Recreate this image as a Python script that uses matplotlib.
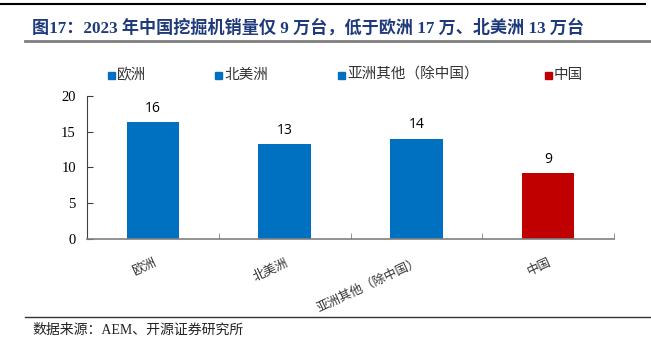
import matplotlib
matplotlib.use("Agg")
import matplotlib.pyplot as plt
from matplotlib.patches import Rectangle
import numpy as np

categories = ["欧洲", "北美洲", "亚洲其他（除中国）", "中国"]
values = [16.3, 13.2, 14.0, 9.2]
colors = ["#0070C0", "#0070C0", "#0070C0", "#C00000"]
yticks = [0, 5, 10, 15, 20]
title = "图17：2023 年中国挖掘机销量仅 9 万台，低于欧洲 17 万、北美洲 13 万台"
source = "数据来源：AEM、开源证券研究所"

CJK = ["Noto Sans CJK SC", "DejaVu Sans"]
SERIF_CJK = ["Liberation Serif", "Noto Sans CJK SC"]
plt.rcParams["font.family"] = CJK

fig = plt.figure(figsize=(6.51, 3.51), dpi=100)
ax = fig.add_axes([87/651, 1-239/351, (614-87)/651, (239-95.7)/351])

x = np.arange(len(categories))
for i, (c, v, col) in enumerate(zip(categories, values, colors)):
    ax.bar(x[i], v, width=0.4, color=col, label=c, zorder=2)
    ax.text(x[i], v + 0.9, f"{v:.0f}", ha="center", va="bottom",
            fontsize=10, family=["Open Sans", "DejaVu Sans"], color="#000000")

ax.set_xlim(-0.5, len(categories) - 0.5)
ax.set_ylim(0, 20)
ax.set_yticks(yticks)
ax.set_yticklabels([str(t) for t in yticks], family="Liberation Serif", fontsize=10.5)
ax.tick_params(axis="y", direction="in", length=4, pad=8, color="#404040")
ax.set_xticks(x)
ax.set_xticklabels(categories, rotation=25, ha="right", rotation_mode="anchor",
                   fontsize=9, color="#333333")
ax.tick_params(axis="x", which="major", length=0, pad=12)
ax.set_xticks(np.arange(-0.5, len(categories)), minor=True)
ax.tick_params(axis="x", which="minor", direction="in", length=4, color="#808080")
for s in ["top", "right"]:
    ax.spines[s].set_visible(False)
ax.spines["bottom"].set_color("#808080")
ax.spines["bottom"].set_linewidth(1.2)
ax.spines["left"].set_color("#404040")

# legend (manual layout to match spacing)
legend_x = [108, 215, 338, 545]
ly = 1 - 75/351
for lx, c, col in zip(legend_x, categories, colors):
    fig.add_artist(Rectangle((lx/651, ly - 3.5/351), 7/651, 7/351,
                             transform=fig.transFigure, color=col))
    fig.text((lx + 9)/651, ly, c, fontsize=10.5, color="#333333",
             va="center", ha="left")

# header line
fig.add_artist(plt.Line2D([0, 645/651], [1-3.5/351, 1-3.5/351], color="#000000", lw=1.5))
# title
fig.text(32/651, 1-28/351, title, fontsize=12.3, fontweight="bold",
         color="#1F3A7A", family=SERIF_CJK, va="center", ha="left")
fig.add_artist(plt.Line2D([25/651, 1], [1-41/351, 1-41/351], color="#7F7F7F", lw=2))
# bottom line and source
fig.add_artist(plt.Line2D([25/651, 1], [1-317/351, 1-317/351], color="#333333", lw=1))
fig.text(32/651, 1-330/351, source, fontsize=10, family=SERIF_CJK,
         color="#222222", va="center", ha="left")

fig.savefig("out.png", dpi=100)
